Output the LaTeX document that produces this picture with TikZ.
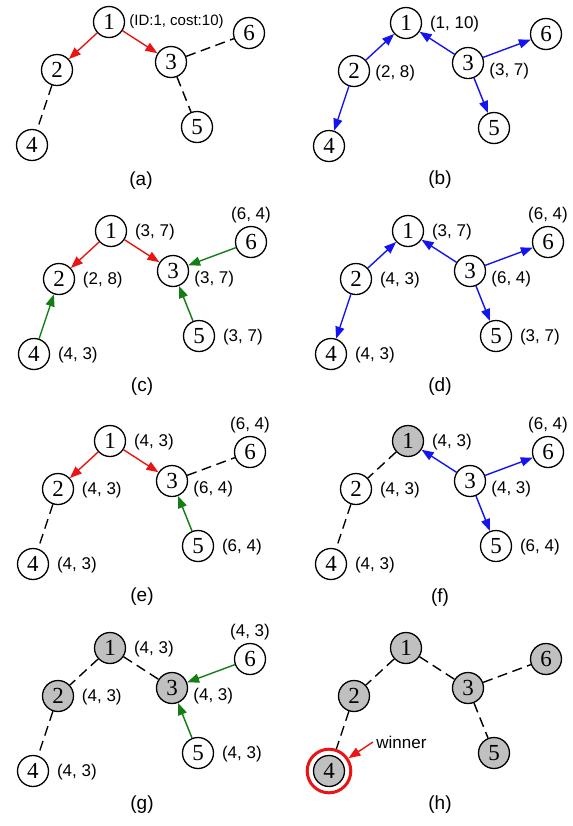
\documentclass[tikz,border=0pt]{standalone}
\usepackage{fontspec}
\setmainfont{Liberation Sans}
\newfontfamily\nfont{Liberation Serif}
\usetikzlibrary{arrows.meta}
\definecolor{nodegray}{RGB}{192,192,192}
\definecolor{arrred}{RGB}{235,20,20}
\definecolor{arrblue}{RGB}{20,20,240}
\definecolor{arrgreen}{RGB}{20,125,20}
% #1 prefix, #2..#7 styles of nodes 1..6
\newcommand\treenodes[7]{%
  \node[#2] (#11) at (109,22) {1};
  \node[#3] (#12) at (57,70) {2};
  \node[#4] (#13) at (171,62) {3};
  \node[#5] (#14) at (32,145) {4};
  \node[#6] (#15) at (197,127) {5};
  \node[#7] (#16) at (249,33) {6};
}
\begin{document}
\begin{tikzpicture}[x=0.5pt,y=-0.5pt,
  nd/.style={circle,draw,line width=0.65pt,minimum size=15.5pt,inner sep=0pt,
    font=\nfont\fontsize{11.5}{12}\selectfont},
  gnd/.style={nd,fill=nodegray},
  lab/.style={font=\fontsize{8.5}{9}\selectfont,inner sep=0pt},
  rl/.style={lab,anchor=west,xshift=11.8pt,yshift=-0.5pt},
  rlc/.style={lab,anchor=west,xshift=10.5pt,yshift=-4pt},
  tl/.style={lab,yshift=13.5pt},
  captxt/.style={font=\fontsize{9.5}{11}\selectfont,inner sep=0pt},
  edgeln/.style={line width=0.7pt},
  redarr/.style={edgeln,arrred,-{Triangle[length=6pt,width=4.5pt]}},
  bluearr/.style={edgeln,arrblue,-{Triangle[length=6pt,width=4.5pt]}},
  greenarr/.style={edgeln,arrgreen,-{Triangle[length=6pt,width=4.5pt]}},
  dashln/.style={edgeln,dash pattern=on 5pt off 2.8pt},
]
\useasboundingbox (0,0) rectangle (573,826);

% (a)
\begin{scope}[shift={(0,0)}]
  \treenodes{a}{nd}{nd}{nd}{nd}{nd}{nd}
  \node[lab,anchor=west,xshift=10pt,font=\fontsize{7.5}{9}\selectfont] (a1l) at (a1) {(ID:1, cost:10)};
  \draw[redarr] (a1) -- (a2);
  \draw[redarr] (a1) -- (a3);
  \draw[dashln] (a3) -- (a6);
  \draw[dashln] (a3) -- (a5);
  \draw[dashln] (a2) -- (a4);
  \node[captxt] (acap) at (141,181) {(a)};
\end{scope}

% (b)
\begin{scope}[shift={(297,1)}]
  \treenodes{b}{nd}{nd}{nd}{nd}{nd}{nd}
  \node[rl] (b1l) at (b1) {(1, 10)};
  \node[lab,anchor=west,xshift=10.5pt,yshift=-1pt] (b2l) at (b2) {(2, 8)};
  \node[rlc] (b3l) at (b3) {(3, 7)};
  \draw[bluearr] (b2) -- (b1);
  \draw[bluearr] (b2) -- (b4);
  \draw[bluearr] (b3) -- (b1);
  \draw[bluearr] (b3) -- (b6);
  \draw[bluearr] (b3) -- (b5);
  \node[captxt] (bcap) at (143,179) {(b)};
\end{scope}

% (c)
\begin{scope}[shift={(2,209)}]
  \treenodes{c}{nd}{nd}{nd}{nd}{nd}{nd}
  \node[rl] (c1l) at (c1) {(3, 7)};
  \node[rl] (c2l) at (c2) {(2, 8)};
  \node[rlc] (c3l) at (c3) {(3, 7)};
  \node[rl] (c4l) at (c4) {(4, 3)};
  \node[rl] (c5l) at (c5) {(3, 7)};
  \node[tl] (c6l) at (c6) {(6, 4)};
  \draw[redarr] (c1) -- (c2);
  \draw[redarr] (c1) -- (c3);
  \draw[greenarr] (c6) -- (c3);
  \draw[greenarr] (c5) -- (c3);
  \draw[greenarr] (c4) -- (c2);
  \node[captxt] (ccap) at (140,178) {(c)};
\end{scope}

% (d)
\begin{scope}[shift={(299,209)}]
  \treenodes{d}{nd}{nd}{nd}{nd}{nd}{nd}
  \node[rl] (d1l) at (d1) {(3, 7)};
  \node[rl] (d2l) at (d2) {(4, 3)};
  \node[rlc] (d3l) at (d3) {(6, 4)};
  \node[rl] (d4l) at (d4) {(4, 3)};
  \node[rl] (d5l) at (d5) {(3, 7)};
  \node[tl] (d6l) at (d6) {(6, 4)};
  \draw[bluearr] (d2) -- (d1);
  \draw[bluearr] (d2) -- (d4);
  \draw[bluearr] (d3) -- (d1);
  \draw[bluearr] (d3) -- (d6);
  \draw[bluearr] (d3) -- (d5);
  \node[captxt] (dcap) at (141,178) {(d)};
\end{scope}

% (e)
\begin{scope}[shift={(1,419)}]
  \treenodes{e}{nd}{nd}{nd}{nd}{nd}{nd}
  \node[rl] (e1l) at (e1) {(4, 3)};
  \node[rl] (e2l) at (e2) {(4, 3)};
  \node[rlc] (e3l) at (e3) {(6, 4)};
  \node[rl] (e4l) at (e4) {(4, 3)};
  \node[rl] (e5l) at (e5) {(6, 4)};
  \node[tl] (e6l) at (e6) {(6, 4)};
  \draw[redarr] (e1) -- (e2);
  \draw[redarr] (e1) -- (e3);
  \draw[dashln] (e3) -- (e6);
  \draw[greenarr] (e5) -- (e3);
  \draw[dashln] (e2) -- (e4);
  \node[captxt] (ecap) at (141,178) {(e)};
\end{scope}

% (f)
\begin{scope}[shift={(299,419)}]
  \treenodes{f}{gnd}{nd}{nd}{nd}{nd}{nd}
  \node[rl] (f1l) at (f1) {(4, 3)};
  \node[rl] (f2l) at (f2) {(4, 3)};
  \node[rlc] (f3l) at (f3) {(4, 3)};
  \node[rl] (f4l) at (f4) {(4, 3)};
  \node[rl] (f5l) at (f5) {(6, 4)};
  \node[tl] (f6l) at (f6) {(6, 4)};
  \draw[dashln] (f1) -- (f2);
  \draw[dashln] (f2) -- (f4);
  \draw[bluearr] (f3) -- (f1);
  \draw[bluearr] (f3) -- (f6);
  \draw[bluearr] (f3) -- (f5);
  \node[captxt] (fcap) at (141,179) {(f)};
\end{scope}

% (g)
\begin{scope}[shift={(1,626)}]
  \treenodes{g}{gnd}{gnd}{gnd}{nd}{nd}{nd}
  \node[rl] (g1l) at (g1) {(4, 3)};
  \node[rl] (g2l) at (g2) {(4, 3)};
  \node[rlc] (g3l) at (g3) {(4, 3)};
  \node[rl] (g4l) at (g4) {(4, 3)};
  \node[rl] (g5l) at (g5) {(4, 3)};
  \node[tl] (g6l) at (g6) {(4, 3)};
  \draw[dashln] (g1) -- (g2);
  \draw[dashln] (g1) -- (g3);
  \draw[dashln] (g2) -- (g4);
  \draw[greenarr] (g6) -- (g3);
  \draw[greenarr] (g5) -- (g3);
  \node[captxt] (gcap) at (141,179) {(g)};
\end{scope}

% (h)
\begin{scope}[shift={(297,626)}]
  \treenodes{h}{gnd}{gnd}{gnd}{gnd}{gnd}{gnd}
  \draw[dashln] (h1) -- (h2);
  \draw[dashln] (h1) -- (h3);
  \draw[dashln] (h3) -- (h6);
  \draw[dashln] (h3) -- (h5);
  \draw[dashln] (h2) -- (h4);
  \node[circle,draw=arrred,line width=1.5pt,minimum size=21.8pt,inner sep=0pt] (hring) at (h4) {};
  \node[lab,anchor=west] (hw) at (79,116) {winner};
  \draw[redarr] ([xshift=-1.5pt]hw.west) -- (hring);
  \node[captxt] (hcap) at (143,179) {(h)};
\end{scope}
\end{tikzpicture}
\end{document}
